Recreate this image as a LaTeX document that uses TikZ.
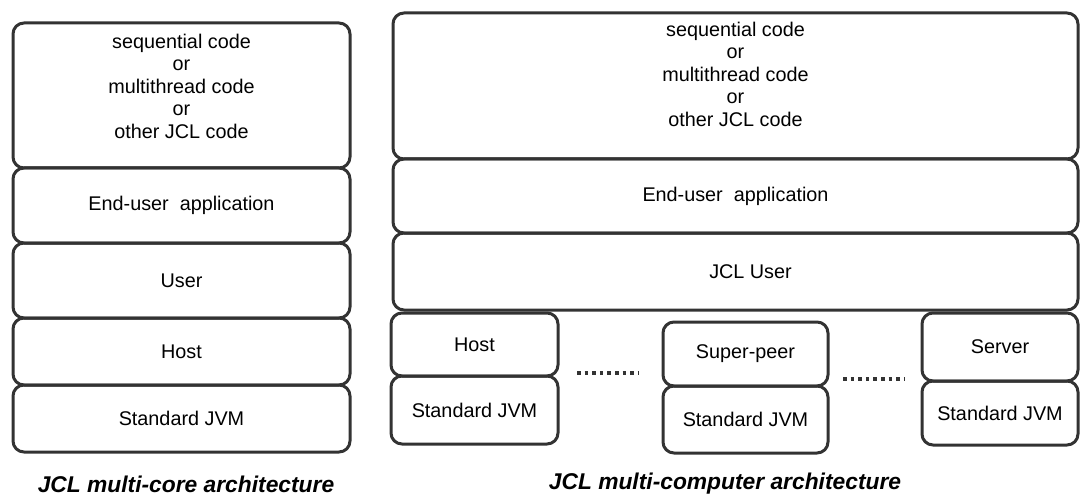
\documentclass[tikz,border=0pt]{standalone}
\usepackage{fontspec}
\setmainfont{Liberation Sans}
\usetikzlibrary{positioning}
\definecolor{boxgray}{RGB}{51,51,51}

\begin{document}
\begin{tikzpicture}[x=1pt, y=-1pt, node distance=0pt,
  every node/.style={font=\fontsize{19.8}{22.5}\selectfont},
  layer/.style={draw=boxgray, line width=3pt, rounded corners=11pt, inner sep=0pt, outer sep=0pt, align=center},
  caption/.style={font=\fontsize{22.8}{26}\selectfont\bfseries\itshape, inner sep=0pt},
  dotrow/.style={boxgray, line width=4pt, dash pattern=on 3.6pt off 4pt}]
  \useasboundingbox (0,0) rectangle (1081,497);
  % multi-core stack
  \node[layer, minimum width=337pt, minimum height=145pt, text depth=19pt] (lcode) at (181.5,95.5) {sequential code\\or\\multithread code\\or\\other JCL code};
  \node[layer, minimum width=337pt, minimum height=75pt, below=of lcode] (lapp) {End-user\ \ application};
  \node[layer, minimum width=337pt, minimum height=75pt, below=of lapp] (luser) {User};
  \node[layer, minimum width=337pt, minimum height=67pt, below=of luser] (lhost) {Host};
  \node[layer, minimum width=337pt, minimum height=67pt, below=of lhost] (ljvm) {Standard JVM};
  \node[caption] (lcap) at (186,484) {JCL multi-core architecture};
  % multi-computer stack
  \node[layer, minimum width=685pt, minimum height=146pt, text depth=24pt] (rcode) at (735.5,86) {sequential code\\or\\multithread code\\or\\other JCL code};
  \node[layer, minimum width=685pt, minimum height=74pt, below=of rcode] (rapp) {End-user\ \ application};
  \node[layer, minimum width=685pt, minimum height=77pt, below=of rapp] (ruser) {\hspace{30pt}JCL User};
  \node[layer, minimum width=167pt, minimum height=63pt] (host) at (474.5,344.5) {Host};
  \node[layer, minimum width=167pt, minimum height=68pt, below=of host] (hostjvm) {Standard JVM};
  \node[layer, minimum width=165pt, minimum height=64pt] (peer) at (745.5,354) {Super-peer};
  \node[layer, minimum width=165pt, minimum height=67pt, below=of peer] (peerjvm) {Standard JVM};
  \node[layer, minimum width=156pt, minimum height=68pt] (server) at (1000,347) {Server};
  \node[layer, minimum width=156pt, minimum height=64pt, below=of server] (serverjvm) {Standard JVM};
  \coordinate (dotsA) at (577,373);
  \coordinate (dotsB) at (843,379);
  \draw[dotrow] (dotsA) -- ++(61,0);
  \draw[dotrow] (dotsB) -- ++(61,0);
  \node[caption] (rcap) at (725,484) {JCL multi-computer architecture};
\end{tikzpicture}
\end{document}
